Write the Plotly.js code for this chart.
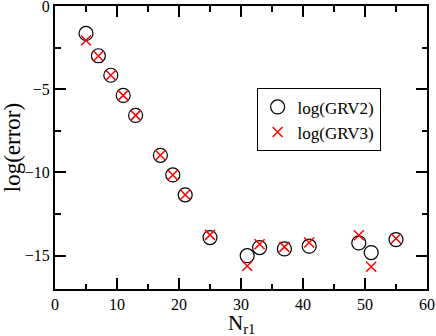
<!DOCTYPE html>
<html>
<head>
<meta charset="utf-8">
<script src="https://cdn.plot.ly/plotly-3.0.1.min.js"></script>
<style>
  html, body { margin: 0; padding: 0; background: #fff; }
  #chart { width: 436px; height: 336px; }
</style>
</head>
<body>
<div id="chart"></div>
<script>
const nr1 = [5, 7, 9, 11, 13, 17, 19, 21, 25, 31, 33, 37, 41, 49, 51, 55];
const grv2 = [-1.65, -2.99, -4.16, -5.37, -6.57, -8.97, -10.15, -11.34, -13.91, -15.0, -14.51, -14.59, -14.43, -14.23, -14.81, -14.03];
const grv3 = [-2.07, -3.0, -4.16, -5.37, -6.57, -8.97, -10.15, -11.34, -13.75, -15.62, -14.31, -14.47, -14.21, -13.77, -15.66, -13.97];

const serif = "Liberation Serif";

function axisStyle(range, dtick, minorStep) {
  return {
    range: range,
    dtick: dtick,
    tick0: 0,
    ticks: "inside",
    ticklen: 11,
    tickwidth: 1.5,
    tickcolor: "#000",
    minor: { dtick: minorStep, ticks: "inside", ticklen: 5.5, tickwidth: 1.5, tickcolor: "#000" },
    showline: true,
    linecolor: "#000",
    linewidth: 2,
    mirror: "ticks",
    showgrid: false,
    zeroline: false,
    ticklabeloverflow: "allow",
    tickfont: { family: serif, size: 16, color: "#000" }
  };
}

const xaxis = axisStyle([0, 60], 10, 5);

const yaxis = axisStyle([-17, 0], 5, 2.5);
yaxis.title = { text: "log(error)", font: { family: serif, size: 23, color: "#000" } };

Plotly.newPlot("chart", [
  {
    type: "scatter",
    mode: "markers",
    name: "log(GRV2)",
    x: nr1,
    y: grv2,
    marker: { symbol: "circle-open", size: 14, color: "#000", line: { width: 1.2, color: "#000" } }
  },
  {
    type: "scatter",
    mode: "markers",
    name: "log(GRV3)",
    x: nr1,
    y: grv3,
    marker: { symbol: "x-thin-open", size: 10, color: "#ff0000", line: { width: 1.5, color: "#ff0000" } }
  }
], {
  width: 436,
  height: 336,
  margin: { l: 55, r: 9, t: 6, b: 47 },
  font: { family: serif, size: 16, color: "#000" },
  paper_bgcolor: "#fff",
  plot_bgcolor: "#fff",
  xaxis: xaxis,
  yaxis: yaxis,
  annotations: [{
    text: "N<sub>r1</sub>",
    xref: "paper",
    yref: "paper",
    x: 0.5,
    y: -0.069,
    xanchor: "center",
    yanchor: "top",
    showarrow: false,
    font: { family: serif, size: 21, color: "#000" }
  }],
  showlegend: true,
  legend: {
    x: 0.542,
    y: 0.709,
    xanchor: "left",
    yanchor: "top",
    bgcolor: "#fff",
    bordercolor: "#000",
    borderwidth: 1,
    font: { family: serif, size: 17, color: "#000" },
    itemwidth: 30,
    tracegroupgap: 0
  }
}, {
  displayModeBar: false
});
</script>
</body>
</html>
